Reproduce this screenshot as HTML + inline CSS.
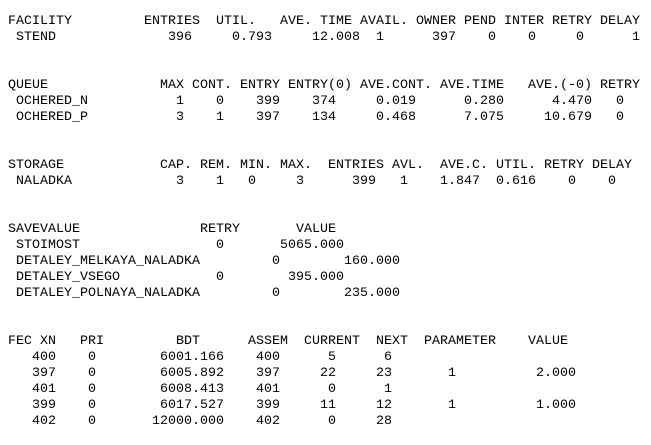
<!DOCTYPE html>
<html><head><meta charset="utf-8"><style>
html,body{margin:0;padding:0;background:#fff;width:651px;height:445px;overflow:hidden;position:relative}
.l{position:absolute;left:0;width:651px;height:16px}
.l span{position:absolute;top:0;white-space:pre;font-family:"Liberation Mono","Courier New","DejaVu Sans Mono",monospace;font-size:13.33px;line-height:16px;color:#000}
</style></head><body>
<div class="l" style="top:14px"><span style="left:8px">FACILITY</span><span style="left:144px">ENTRIES</span><span style="left:216px">UTIL.</span><span style="left:280px">AVE. TIME</span><span style="left:360px">AVAIL.</span><span style="left:416px">OWNER</span><span style="left:464px">PEND</span><span style="left:504px">INTER</span><span style="left:552px">RETRY</span><span style="left:600px">DELAY</span></div>
<div class="l" style="top:30px"><span style="left:16px">STEND</span><span style="left:168px">396</span><span style="left:232px">0.793</span><span style="left:312px">12.008</span><span style="left:376px">1</span><span style="left:432px">397</span><span style="left:488px">0</span><span style="left:528px">0</span><span style="left:576px">0</span><span style="left:632px">1</span></div>

<div class="l" style="top:78px"><span style="left:8px">QUEUE</span><span style="left:160px">MAX</span><span style="left:192px">CONT.</span><span style="left:240px">ENTRY</span><span style="left:288px">ENTRY(0)</span><span style="left:360px">AVE.CONT.</span><span style="left:440px">AVE.TIME</span><span style="left:528px">AVE.(-0)</span><span style="left:600px">RETRY</span></div>
<div class="l" style="top:94px"><span style="left:16px">OCHERED_N</span><span style="left:176px">1</span><span style="left:216px">0</span><span style="left:256px">399</span><span style="left:312px">374</span><span style="left:376px">0.019</span><span style="left:464px">0.280</span><span style="left:552px">4.470</span><span style="left:616px">0</span></div>
<div class="l" style="top:110px"><span style="left:16px">OCHERED_P</span><span style="left:176px">3</span><span style="left:216px">1</span><span style="left:256px">397</span><span style="left:312px">134</span><span style="left:376px">0.468</span><span style="left:464px">7.075</span><span style="left:544px">10.679</span><span style="left:616px">0</span></div>

<div class="l" style="top:158px"><span style="left:8px">STORAGE</span><span style="left:160px">CAP.</span><span style="left:200px">REM.</span><span style="left:240px">MIN.</span><span style="left:280px">MAX.</span><span style="left:328px">ENTRIES</span><span style="left:392px">AVL.</span><span style="left:440px">AVE.C.</span><span style="left:496px">UTIL.</span><span style="left:544px">RETRY</span><span style="left:592px">DELAY</span></div>
<div class="l" style="top:174px"><span style="left:16px">NALADKA</span><span style="left:176px">3</span><span style="left:216px">1</span><span style="left:248px">0</span><span style="left:296px">3</span><span style="left:352px">399</span><span style="left:400px">1</span><span style="left:440px">1.847</span><span style="left:496px">0.616</span><span style="left:568px">0</span><span style="left:608px">0</span></div>

<div class="l" style="top:222px"><span style="left:8px">SAVEVALUE</span><span style="left:200px">RETRY</span><span style="left:296px">VALUE</span></div>
<div class="l" style="top:238px"><span style="left:16px">STOIMOST</span><span style="left:216px">0</span><span style="left:280px">5065.000</span></div>
<div class="l" style="top:254px"><span style="left:16px">DETALEY_MELKAYA_NALADKA</span><span style="left:272px">0</span><span style="left:344px">160.000</span></div>
<div class="l" style="top:270px"><span style="left:16px">DETALEY_VSEGO</span><span style="left:216px">0</span><span style="left:288px">395.000</span></div>
<div class="l" style="top:286px"><span style="left:16px">DETALEY_POLNAYA_NALADKA</span><span style="left:272px">0</span><span style="left:344px">235.000</span></div>

<div class="l" style="top:334px"><span style="left:8px">FEC XN</span><span style="left:80px">PRI</span><span style="left:176px">BDT</span><span style="left:248px">ASSEM</span><span style="left:304px">CURRENT</span><span style="left:376px">NEXT</span><span style="left:424px">PARAMETER</span><span style="left:528px">VALUE</span></div>
<div class="l" style="top:350px"><span style="left:32px">400</span><span style="left:88px">0</span><span style="left:160px">6001.166</span><span style="left:256px">400</span><span style="left:328px">5</span><span style="left:384px">6</span></div>
<div class="l" style="top:366px"><span style="left:32px">397</span><span style="left:88px">0</span><span style="left:160px">6005.892</span><span style="left:256px">397</span><span style="left:320px">22</span><span style="left:376px">23</span><span style="left:448px">1</span><span style="left:536px">2.000</span></div>
<div class="l" style="top:382px"><span style="left:32px">401</span><span style="left:88px">0</span><span style="left:160px">6008.413</span><span style="left:256px">401</span><span style="left:328px">0</span><span style="left:384px">1</span></div>
<div class="l" style="top:398px"><span style="left:32px">399</span><span style="left:88px">0</span><span style="left:160px">6017.527</span><span style="left:256px">399</span><span style="left:320px">11</span><span style="left:376px">12</span><span style="left:448px">1</span><span style="left:536px">1.000</span></div>
<div class="l" style="top:414px"><span style="left:32px">402</span><span style="left:88px">0</span><span style="left:152px">12000.000</span><span style="left:256px">402</span><span style="left:328px">0</span><span style="left:376px">28</span></div>
</body></html>
